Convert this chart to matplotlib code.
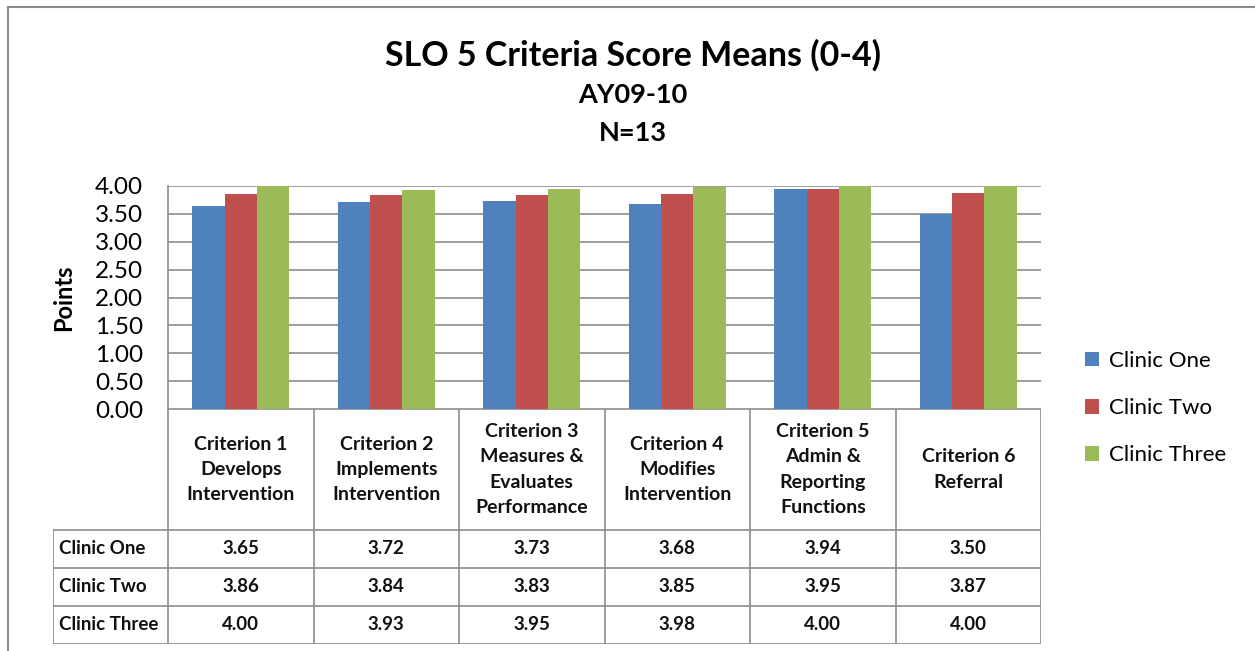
import numpy as np
import matplotlib
matplotlib.use("Agg")
import matplotlib.pyplot as plt
from matplotlib.patches import Rectangle, Patch

plt.rcParams['font.family'] = ['Lato', 'DejaVu Sans']

# data
criteria = ["Criterion 1\nDevelops\nIntervention",
            "Criterion 2\nImplements\nIntervention",
            "Criterion 3\nMeasures &\nEvaluates\nPerformance",
            "Criterion 4\nModifies\nIntervention",
            "Criterion 5\nAdmin &\nReporting\nFunctions",
            "Criterion 6\nReferral"]
series = ["Clinic One", "Clinic Two", "Clinic Three"]
clinic_one = [3.65, 3.72, 3.73, 3.68, 3.94, 3.50]
clinic_two = [3.86, 3.84, 3.83, 3.85, 3.95, 3.87]
clinic_three = [4.00, 3.93, 3.95, 3.98, 4.00, 4.00]
colors = ["#4F81BD", "#C0504D", "#9BBB59"]
yticks = [0, 0.5, 1.0, 1.5, 2.0, 2.5, 3.0, 3.5, 4.0]

W, H = 1255, 651
grid_c = "#8C8C8C"

def fx(px):
    return px / W

def fy(py):
    return 1 - py / H

fig = plt.figure(figsize=(W / 100, H / 100), dpi=100)

# outer frame (right/bottom fall outside the image)
fig.patches.append(Rectangle((fx(8), fy(660)), fx(1262) - fx(8), fy(7) - fy(660),
                             transform=fig.transFigure, fill=False,
                             edgecolor="#8C8C8C", lw=1.5))

# titles
fig.text(fx(633), fy(55), "SLO 5 Criteria Score Means (0-4)", ha="center", va="center",
         fontsize=24.5, fontweight="bold")
fig.text(fx(633), fy(95), "AY09-10", ha="center", va="center", fontsize=19.5, fontweight="bold")
fig.text(fx(633), fy(133), "N=13", ha="center", va="center", fontsize=19.5, fontweight="bold")

# bar axes
left, right, top, bottom = 168, 1041, 186, 409
ax = fig.add_axes([fx(left), fy(bottom), fx(right) - fx(left), fy(top) - fy(bottom)])
n = len(criteria)
x = np.arange(n) + 0.5
bw = 0.223
for k, vals in enumerate([clinic_one, clinic_two, clinic_three]):
    ax.bar(x + (k - 1) * bw, vals, width=bw, color=colors[k], zorder=2)
ax.set_xlim(0, n)
ax.set_ylim(0, 4)
ax.set_yticks(yticks)
ax.set_yticklabels([f"{t:.2f}" for t in yticks], fontsize=17.5)
ax.set_xticks([])
ax.tick_params(axis="y", length=0, pad=18)
ax.grid(axis="y", color=grid_c, lw=1.2, zorder=0)
for s in ["top", "right", "bottom"]:
    ax.spines[s].set_visible(False)
ax.spines["left"].set_color(grid_c)
ax.spines["left"].set_linewidth(1.2)
ax.set_ylabel("Points", fontsize=17, fontweight="bold", labelpad=14)

# data table axes (pixel coordinates)
tl, tb = 53, 644
tax = fig.add_axes([fx(tl), fy(tb), fx(right) - fx(tl), fy(bottom) - fy(tb)])
tax.set_xlim(tl, right)
tax.set_ylim(tb, bottom)
tax.axis("off")
col_w = (right - left) / n
row_y = [530, 568, 606, 644]
lc = dict(color=grid_c, lw=1.2, solid_capstyle="projecting")
# vertical lines
for i in range(n + 1):
    xx = left + i * col_w
    tax.plot([xx, xx], [bottom, tb], **lc)
tax.plot([tl, tl], [row_y[0], tb], **lc)
# horizontal lines
tax.plot([left, right], [bottom, bottom], **lc)
for yy in row_y:
    tax.plot([tl, right], [yy, yy], **lc)

for i, lab in enumerate(criteria):
    tax.text(left + (i + 0.5) * col_w, (bottom + row_y[0]) / 2, lab, ha="center", va="center",
             fontsize=14, fontweight="bold", linespacing=1.6, color="#111111")

for r, (name, vals) in enumerate(zip(series, [clinic_one, clinic_two, clinic_three])):
    yc = (row_y[r] + row_y[r + 1]) / 2
    tax.text(tl + 6, yc, name, ha="left", va="center", fontsize=13.5, fontweight="bold",
             color="#111111")
    for i, v in enumerate(vals):
        tax.text(left + (i + 0.5) * col_w, yc, f"{v:.2f}", ha="center", va="center",
                 fontsize=13.5, fontweight="bold", color="#111111")

# legend
handles = [Patch(facecolor=c, edgecolor="none") for c in colors]
fig.legend(handles, series, loc="center left", bbox_to_anchor=(fx(1076), fy(408)),
           frameon=False, fontsize=16, handlelength=0.65, handleheight=0.65,
           handletextpad=0.45, labelspacing=1.22, borderaxespad=0)

fig.savefig("out.png", dpi=100)
